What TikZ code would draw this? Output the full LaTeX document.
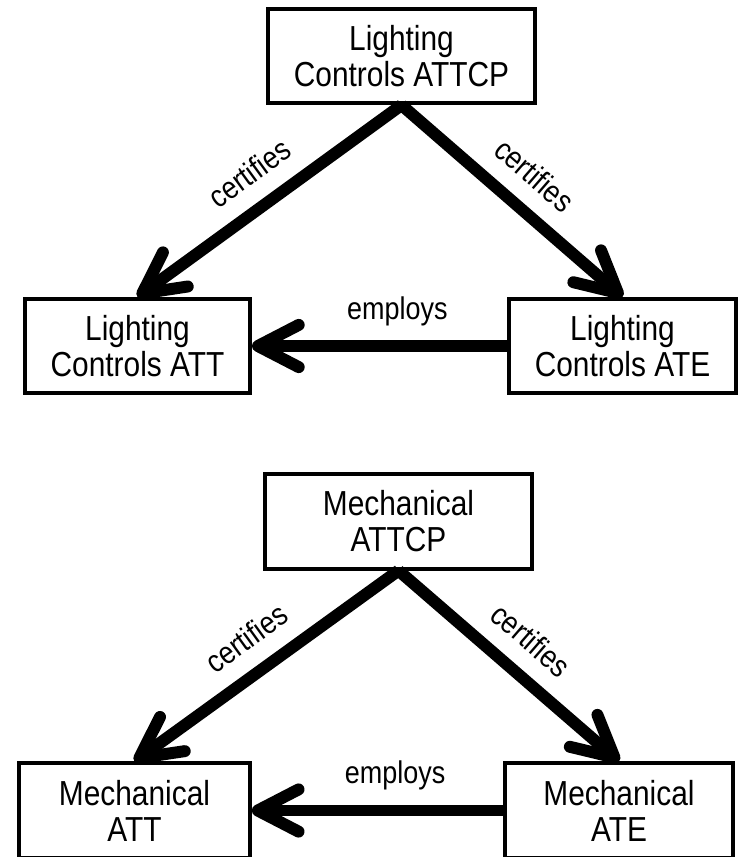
\documentclass[tikz,border=0pt]{standalone}
\usepackage{fontspec}
\setmainfont[FakeStretch=0.86]{Liberation Sans}
\newfontfamily\lblfont{Liberation Sans}
\newcommand{\narrowlbl}[1]{\scalebox{0.86}[1]{\lblfont #1}}
\usetikzlibrary{arrows.meta}

\begin{document}
\begin{tikzpicture}[x=0.025cm, y=-0.025cm,
	box/.style={draw=black, line width=2.8pt, minimum height=67pt, inner sep=0pt, align=center, font=\fontsize{24.7}{25.6}\selectfont, execute at begin node=\rule{0pt}{25pt}},
	rel/.style={draw=black, line width=8.5pt, -{Straight Barb[length=29pt, width=30pt, line cap=round, line join=round]}},
	lbl/.style={font=\fontsize{22.3}{24}\selectfont, inner sep=0pt}]
	\useasboundingbox (0,0) rectangle (745,857);
	% lighting controls
	\node[box, minimum width=190pt] (lcattcp) at (401.5,56) {Lighting\\Controls ATTCP};
	\node[box, minimum width=160pt] (lcatt) at (137.5,346) {Lighting\\Controls ATT};
	\node[box, minimum width=161.5pt] (lcate) at (622.5,346) {Lighting\\Controls ATE};
	\draw[rel] (lcattcp.south) -- (lcatt.north) node[lbl, midway, sloped, above=12pt] {\narrowlbl{certifies}};
	\draw[rel] (lcattcp.south) -- (lcate.north) node[lbl, midway, sloped, above=12pt] {\narrowlbl{certifies}};
	\draw[rel] (lcate.west) -- (lcatt.east) node[lbl, pos=0.43, above=10pt] {\narrowlbl{employs}};
	% mechanical
	\node[box, minimum width=190pt] (mattcp) at (398.5,521.5) {Mechanical\\ATTCP};
	\node[box, minimum width=164pt] (matt) at (134.5,810.5) {Mechanical\\ATT};
	\node[box, minimum width=162pt] (mate) at (619,810.5) {Mechanical\\ATE};
	\draw[rel] (mattcp.south) -- (matt.north) node[lbl, midway, sloped, above=12pt] {\narrowlbl{certifies}};
	\draw[rel] (mattcp.south) -- (mate.north) node[lbl, midway, sloped, above=12pt] {\narrowlbl{certifies}};
	\draw[rel] (mate.west) -- (matt.east) node[lbl, pos=0.43, above=10pt] {\narrowlbl{employs}};
\end{tikzpicture}
\end{document}
